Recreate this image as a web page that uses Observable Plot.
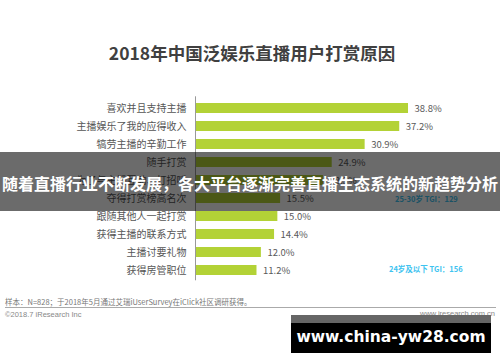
<!DOCTYPE html>
<html>
<head>
<meta charset="utf-8">
<script src="https://cdn.jsdelivr.net/npm/d3@7"></script>
<script src="https://cdn.jsdelivr.net/npm/@observablehq/plot@0.6"></script>
<style>
  html, body { margin: 0; padding: 0; background: #fff; }
  body { width: 500px; height: 362px; position: relative; overflow: hidden; font-family: "Noto Sans CJK SC", "Noto Sans", sans-serif; }
  #title { position: absolute; left: 0; top: 40px; width: 504px; text-align: center; font-size: 17.5px; font-weight: bold; color: #404040; line-height: 26px; }
  #chart { position: absolute; left: 0; top: 90px; }
  .tgi { position: absolute; font-size: 7.5px; font-weight: bold; color: #3ec3f0; white-space: nowrap; }
  #banner { position: absolute; left: 0; top: 152px; width: 500px; height: 59px; background: rgba(0,0,0,0.58); }
  #bannerText { position: absolute; left: 0; top: 172px; width: 500px; text-align: center; color: #fff; font-weight: bold; font-size: 16px; line-height: 22px; white-space: nowrap; }
  #note { position: absolute; left: 5px; top: 296px; font-size: 7.5px; color: #777; white-space: nowrap; }
  #rule { position: absolute; left: 5px; top: 307px; width: 491px; height: 1px; background: #aaa; }
  #copy { position: absolute; left: 5px; top: 310px; font-size: 7.5px; color: #888; white-space: nowrap; font-family: "Liberation Sans", sans-serif; }
  #site { position: absolute; right: 5px; top: 309px; font-size: 7.5px; color: #888; white-space: nowrap; font-family: "Liberation Sans", sans-serif; }
  #wm { position: absolute; left: 291px; top: 315px; width: 200px; height: 38px; background: #000; }
  #wmTop { position: absolute; left: 291px; top: 315px; width: 200px; height: 8px; background: #666; }
  #wmText { position: absolute; left: 291px; top: 326px; width: 200px; text-align: center; color: #fff; font-weight: bold; font-size: 15.5px; line-height: 22px; font-family: "DejaVu Sans", sans-serif; white-space: nowrap; }
</style>
</head>
<body>
<div id="title">2018年中国泛娱乐直播用户打赏原因</div>
<div id="chart"></div>
<div class="tgi" style="left:395px; top:193px;">25-30岁 TGI：129</div>
<div class="tgi" style="left:389px; top:263px;">24岁及以下 TGI：156</div>
<div id="banner"></div>
<div id="bannerText">随着直播行业不断发展，各大平台逐渐完善直播生态系统的新趋势分析</div>
<div id="note">样本：N=828；于2018年5月通过艾瑞iUserSurvey在iClick社区调研获得。</div>
<div id="rule"></div>
<div id="copy">©2018.7 iResearch Inc</div>
<div id="site">www.iresearch.com.cn</div>
<div id="wm"></div>
<div id="wmTop"></div>
<div id="wmText">www.china-yw28.com</div>
<script>
const categories = [
  "喜欢并且支持主播",
  "主播娱乐了我的应得收入",
  "犒劳主播的辛勤工作",
  "随手打赏",
  "为了与主播互动、打招呼",
  "夺得打赏榜高名次",
  "跟随其他人一起打赏",
  "获得主播的联系方式",
  "主播讨要礼物",
  "获得房管职位"
];
const values = [38.8, 37.2, 30.9, 24.9, 23.3, 15.5, 15.0, 14.4, 12.0, 11.2];

const data = categories.map((c, i) => ({label: c, value: values[i]}));

const chart = Plot.plot({
  width: 500,
  height: 200,
  marginLeft: 195,
  marginRight: 30.5,
  marginTop: 6.3,
  marginBottom: 9.7,
  style: {fontFamily: "'Noto Sans CJK SC', sans-serif", color: "#555", background: "transparent"},
  x: {domain: [0, 50], axis: null},
  y: {domain: categories, paddingInner: 0.47, paddingOuter: 0.235, align: 0.5, label: null, tickSize: 0, tickPadding: 9, fontSize: 9},
  marks: [
    Plot.barX(data, {x: "value", y: "label", fill: "#b3d236"}),
    Plot.ruleX([0], {stroke: "#999", strokeWidth: 1}),
    Plot.text(data, {x: "value", y: "label", text: d => d.value.toFixed(1) + "%", dx: 6, textAnchor: "start", fill: "#595959", fontSize: 9.5})
  ]
});
document.getElementById("chart").appendChild(chart);
</script>
</body>
</html>
